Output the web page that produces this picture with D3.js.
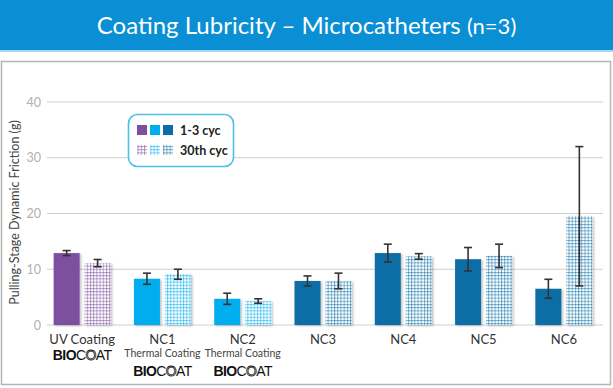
<!DOCTYPE html>
<html>
<head>
<meta charset="utf-8">
<script src="https://cdn.jsdelivr.net/npm/d3@7"></script>
<style>
  html, body { margin: 0; padding: 0; background: #fff; }
  svg { display: block; }
</style>
</head>
<body>
<div id="app"></div>
<script>
// 数据
const categories = ['UV Coating', 'NC1', 'NC2', 'NC3', 'NC4', 'NC5', 'NC6'];
const subLabels = ['', 'Thermal Coating', 'Thermal Coating', '', '', '', ''];
const hasLogo = [true, true, true, false, false, false, false];
const firstCyc = [12.9, 8.3, 4.7, 7.9, 12.9, 11.8, 6.5];
const firstErr = [0.45, 1.0, 1.0, 0.9, 1.6, 2.1, 1.7];
const cyc30 = [11.1, 9.1, 4.3, 7.9, 12.3, 12.4, 19.5];
const cyc30Err = [0.65, 0.9, 0.4, 1.4, 0.5, 2.1, 12.5];
const barColors = ['#7d4f9e', '#00aeef', '#00aeef', '#0a6ea6', '#0a6ea6', '#0a6ea6', '#0a6ea6'];
const yTicks = [0, 10, 20, 30, 40];
const legendLabels = ['1-3 cyc', '30th cyc'];
const legendColors = ['#7d4f9e', '#00aeef', '#0a6ea6'];

const width = 613, height = 388;

const svg = d3.select('#app').append('svg')
  .attr('width', width)
  .attr('height', height);

const defs = svg.append('defs');

// 网格图案
function makePattern(id, color) {
  const p = defs.append('pattern')
    .attr('id', id)
    .attr('patternUnits', 'userSpaceOnUse')
    .attr('width', 3.2)
    .attr('height', 3.2);
  p.append('rect').attr('width', 3.2).attr('height', 3.2).attr('fill', '#fff');
  p.append('rect').attr('width', 3.2).attr('height', 1).attr('fill', color).attr('opacity', 0.55);
  p.append('rect').attr('width', 1).attr('height', 3.2).attr('fill', color).attr('opacity', 0.55);
}
const uniqueColors = Array.from(new Set(barColors.concat(legendColors)));
const patId = c => 'pat' + c.replace('#', '');
uniqueColors.forEach(c => makePattern(patId(c), c));

const shadow = defs.append('filter').attr('id', 'shadow')
  .attr('x', '-20%').attr('y', '-20%').attr('width', '150%').attr('height', '150%');
shadow.append('feDropShadow')
  .attr('dx', 1.5).attr('dy', 1).attr('stdDeviation', 1)
  .attr('flood-color', '#000').attr('flood-opacity', 0.25);

// 标题栏
svg.append('rect').attr('x', 0).attr('y', 0).attr('width', width).attr('height', 52).attr('fill', '#a9d8f2');
svg.append('rect').attr('x', 0).attr('y', 0).attr('width', width).attr('height', 50).attr('fill', '#0a8fd4');
const title = svg.append('text')
  .attr('x', width / 2).attr('y', 34)
  .attr('text-anchor', 'middle')
  .attr('fill', '#fff')
  .attr('font-family', 'Lato, sans-serif')
  .attr('font-size', 24);
title.append('tspan').text('Coating Lubricity – Microcatheters ');
title.append('tspan').attr('font-size', 22).text('(n=3)');

// 面板边框
svg.append('rect')
  .attr('x', 1.5).attr('y', 61.5).attr('width', 609).attr('height', 323)
  .attr('fill', 'none').attr('stroke', '#b5b5b5').attr('stroke-width', 1.5);

// 比例尺
const x = d3.scaleBand().domain(categories).range([42, 604]).paddingInner(0).paddingOuter(0);
const inner = d3.scaleBand().domain(['a', 'b']).range([x.bandwidth() / 2 - 28.5, x.bandwidth() / 2 + 28.5]).paddingInner(0.16);
const y = d3.scaleLinear().domain([0, 40]).range([325, 102]);

// 网格线
svg.append('g')
  .selectAll('line').data(yTicks).join('line')
  .attr('x1', 47).attr('x2', 603)
  .attr('y1', d => y(d)).attr('y2', d => y(d))
  .attr('stroke', '#cfcfcf').attr('stroke-width', 1.2);

const yAxis = svg.append('g')
  .attr('transform', 'translate(44,0)')
  .call(d3.axisLeft(y).tickValues(yTicks).tickSize(0).tickPadding(3));
yAxis.select('.domain').remove();
yAxis.selectAll('text')
  .attr('fill', '#b0b0b0')
  .attr('font-family', 'Lato, sans-serif')
  .attr('font-size', 12.5);

svg.append('text')
  .attr('transform', `translate(19,${y(20) - 1}) rotate(-90)`)
  .attr('text-anchor', 'middle')
  .attr('fill', '#444')
  .attr('font-family', 'Lato, sans-serif')
  .attr('font-size', 12.5)
  .text('Pulling-Stage Dynamic Friction (g)');

// 柱子
const groups = svg.append('g').selectAll('g').data(categories).join('g')
  .attr('transform', d => `translate(${x(d)},0)`);

groups.append('rect')
  .attr('x', inner('a'))
  .attr('width', inner.bandwidth())
  .attr('y', (d, i) => y(firstCyc[i]))
  .attr('height', (d, i) => y(0) - y(firstCyc[i]))
  .attr('fill', (d, i) => barColors[i])
  .attr('filter', 'url(#shadow)');

groups.append('rect')
  .attr('x', inner('b'))
  .attr('width', inner.bandwidth())
  .attr('y', (d, i) => y(cyc30[i]))
  .attr('height', (d, i) => y(0) - y(cyc30[i]))
  .attr('fill', (d, i) => `url(#${patId(barColors[i])})`)
  .attr('filter', 'url(#shadow)');

// 误差线
function errorBar(key, vals, errs) {
  const cx = inner(key) + inner.bandwidth() / 2;
  const eb = groups.append('g').attr('stroke', '#333').attr('stroke-width', 1.6);
  eb.append('line')
    .attr('x1', cx).attr('x2', cx)
    .attr('y1', (d, i) => y(vals[i] + errs[i]))
    .attr('y2', (d, i) => y(vals[i] - errs[i]));
  eb.append('line')
    .attr('x1', cx - 4).attr('x2', cx + 4)
    .attr('y1', (d, i) => y(vals[i] + errs[i]))
    .attr('y2', (d, i) => y(vals[i] + errs[i]));
  eb.append('line')
    .attr('x1', cx - 4).attr('x2', cx + 4)
    .attr('y1', (d, i) => y(vals[i] - errs[i]))
    .attr('y2', (d, i) => y(vals[i] - errs[i]));
}
errorBar('a', firstCyc, firstErr);
errorBar('b', cyc30, cyc30Err);

// X 轴标签
const cxBand = x.bandwidth() / 2;
groups.append('text')
  .attr('x', cxBand).attr('y', 344)
  .attr('text-anchor', 'middle')
  .attr('fill', '#333')
  .attr('font-family', 'Lato, sans-serif')
  .attr('font-size', 13)
  .text(d => d);

groups.filter((d, i) => subLabels[i] !== '').append('text')
  .attr('x', cxBand).attr('y', 357)
  .attr('text-anchor', 'middle')
  .attr('fill', '#444')
  .attr('font-family', 'Lato, sans-serif')
  .attr('font-size', 10.5)
  .text(d => subLabels[categories.indexOf(d)]);

// BIOCOAT 标志
const logos = groups.filter((d, i) => hasLogo[i]).append('text')
  .attr('x', cxBand)
  .attr('y', d => subLabels[categories.indexOf(d)] ? 376 : 360)
  .attr('text-anchor', 'middle')
  .attr('fill', '#111')
  .attr('font-family', 'Liberation Sans, Arial, sans-serif')
  .attr('font-size', 14)
  .attr('letter-spacing', -0.6);
logos.append('tspan').attr('font-weight', 'bold').text('BIO');
logos.append('tspan').attr('font-weight', 'normal').text('C');
logos.append('tspan').attr('font-weight', 'normal').attr('fill', '#fff')
  .attr('stroke', '#111').attr('stroke-width', 0.8).text('O');
logos.append('tspan').attr('font-weight', 'normal').text('AT');

// 图例
const legend = svg.append('g').attr('transform', 'translate(128,114)');
legend.append('rect')
  .attr('x', 0.5).attr('y', 0.5).attr('width', 105).attr('height', 52).attr('rx', 9)
  .attr('fill', '#fff').attr('stroke', '#4cc0e6').attr('stroke-width', 1.6);
legendLabels.forEach((lab, r) => {
  legendColors.forEach((c, k) => {
    legend.append('rect')
      .attr('x', 9 + k * 13).attr('y', 11 + r * 20)
      .attr('width', 10).attr('height', 10)
      .attr('fill', r === 0 ? c : `url(#${patId(c)})`);
  });
  legend.append('text')
    .attr('x', 52).attr('y', 20.5 + r * 20)
    .attr('fill', '#222')
    .attr('font-family', 'Lato, sans-serif')
    .attr('font-weight', 'bold')
    .attr('font-size', 12.5)
    .text(lab);
});
</script>
</body>
</html>
